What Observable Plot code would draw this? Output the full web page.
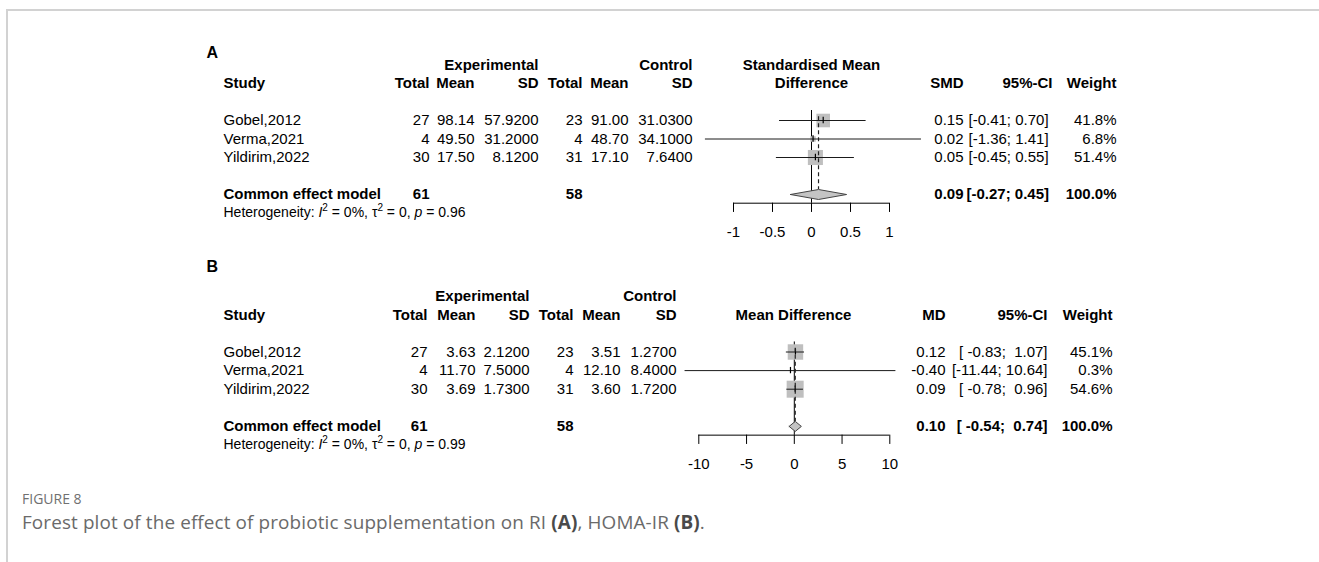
<!DOCTYPE html>
<html>
<head>
<meta charset="utf-8">
<script src="https://cdn.jsdelivr.net/npm/d3@7"></script>
<script src="https://cdn.jsdelivr.net/npm/@observablehq/plot@0.6"></script>
<style>
  html, body { margin: 0; padding: 0; background: #fff; }
  #root { position: relative; width: 1319px; height: 562px; overflow: hidden; background: #fff; }
  #frame { position: absolute; left: 6px; top: 9px; right: 0; bottom: -4px; border-top: 2px solid #d2d2d2; border-left: 2px solid #d2d2d2; }
  .panel { position: absolute; left: 0; }
  svg text { white-space: pre; }
  #figlabel { position: absolute; left: 22px; top: 492px; font-family: "Open Sans", sans-serif; font-size: 14px; color: #707070; line-height: 14px; }
  #figcap { position: absolute; left: 22px; top: 512px; font-family: "Open Sans", sans-serif; font-size: 18.9px; letter-spacing: 0.12px; color: #6a6a6a; line-height: 20px; }
  #figcap b { color: #4a4a4a; }
</style>
</head>
<body>
<div id="root">
  <div id="frame"></div>
  <div id="panelA" class="panel" style="top:30px"></div>
  <div id="panelB" class="panel" style="top:250px"></div>
  <div id="figlabel">FIGURE 8</div>
  <div id="figcap">Forest plot of the effect of probiotic supplementation on RI <b>(A)</b>, HOMA-IR <b>(B)</b>.</div>
</div>
<script>
// ---------- data ----------
const studies = ["Gobel,2012", "Verma,2021", "Yildirim,2022"];

// Panel A: RI (standardised mean difference)
const aExpTotal = [27, 4, 30];
const aExpMean = [98.14, 49.50, 17.50];
const aExpSD = [57.92, 31.20, 8.12];
const aCtlTotal = [23, 4, 31];
const aCtlMean = [91.00, 48.70, 17.10];
const aCtlSD = [31.03, 34.10, 7.64];
const aEst = [0.15, 0.02, 0.05];
const aLower = [-0.41, -1.36, -0.45];
const aUpper = [0.70, 1.41, 0.55];
const aWeight = [41.8, 6.8, 51.4];
const aCommon = [0.09, -0.27, 0.45];      // estimate, lower, upper
const aCommonN = [61, 58];                 // experimental, control totals
const aHetP = "0.96";
const aTicks = [-1, -0.5, 0, 0.5, 1];

// Panel B: HOMA-IR (mean difference)
const bExpTotal = [27, 4, 30];
const bExpMean = [3.63, 11.70, 3.69];
const bExpSD = [2.12, 7.50, 1.73];
const bCtlTotal = [23, 4, 31];
const bCtlMean = [3.51, 12.10, 3.60];
const bCtlSD = [1.27, 8.40, 1.72];
const bEst = [0.12, -0.40, 0.09];
const bLower = [-0.83, -11.44, -0.78];
const bUpper = [1.07, 10.64, 0.96];
const bWeight = [45.1, 0.3, 54.6];
const bCommon = [0.10, -0.54, 0.74];
const bCommonN = [61, 58];
const bHetP = "0.99";
const bTicks = [-10, -5, 0, 5, 10];

// ---------- helpers ----------
const FONT = "Liberation Sans, Arial, Helvetica, sans-serif";
const INK = "#000";

function col(values, rowOf, px, anchor, bold, size, extra) {
  return Plot.text(values, Object.assign({
    y: (d, i) => rowOf(i),
    text: d => d,
    frameAnchor: "left",
    dx: px,
    textAnchor: anchor,
    fontWeight: bold ? "bold" : "normal",
    fontSize: size || 15,
    fill: INK
  }, extra || {}));
}

function forest(cfg) {
  const idx = studies.map((_, i) => i);
  const cRow = 4;        // common-effect row
  const hd = 0.27;       // diamond half-height (rows)
  const axisRow = 4.47;
  const p = cfg.pos;
  const fmtCI = cfg.fmtCI;
  const marks = [
    // panel letter
    col([cfg.letter], () => cfg.letterRow, p.letter, "start", true, 16),
    // group headers
    col(["Experimental"], () => -3, p.eSD, "end", true),
    col(["Control"], () => -3, p.cSD, "end", true),
    // column headers
    col(["Study"], () => -2, p.study, "start", true),
    col(["Total"], () => -2, p.eT, "end", true),
    col(["Mean"], () => -2, p.eM, "end", true),
    col(["SD"], () => -2, p.eSD, "end", true),
    col(["Total"], () => -2, p.cT, "end", true),
    col(["Mean"], () => -2, p.cM, "end", true),
    col(["SD"], () => -2, p.cSD, "end", true),
    col([cfg.effName], () => -2, p.eff, "end", true),
    col(["95%-CI"], () => -2, p.ciHead, "end", true),
    col(["Weight"], () => -2, p.w, "end", true),
    ...cfg.effTitle.map((t, k) => col([t], () => -2 - (cfg.effTitle.length - 1) + k, p.effTitle, "middle", true)),
    // study rows
    col(studies, i => i, p.study, "start"),
    col(cfg.eT.map(String), i => i, p.eT, "end"),
    col(cfg.eM.map(v => v.toFixed(2)), i => i, p.eM, "end"),
    col(cfg.eSD.map(v => v.toFixed(4)), i => i, p.eSD, "end"),
    col(cfg.cT.map(String), i => i, p.cT, "end"),
    col(cfg.cM.map(v => v.toFixed(2)), i => i, p.cM, "end"),
    col(cfg.cSD.map(v => v.toFixed(4)), i => i, p.cSD, "end"),
    col(cfg.est.map(v => v.toFixed(2)), i => i, p.eff, "end"),
    col(idx.map(i => fmtCI(cfg.lower[i], cfg.upper[i])), i => i, p.ci, p.ciAnchor),
    col(cfg.weight.map(v => v.toFixed(1) + "%"), i => i, p.w, "end"),
    // common effect row
    col(["Common effect model"], () => cRow, p.study, "start", true),
    col([String(cfg.commonN[0])], () => cRow, p.eT, "end", true),
    col([String(cfg.commonN[1])], () => cRow, p.cT, "end", true),
    col([cfg.common[0].toFixed(2)], () => cRow, p.eff, "end", true),
    col([fmtCI(cfg.common[1], cfg.common[2])], () => cRow, p.ciBold, p.ciAnchor, true),
    col(["100.0%"], () => cRow, p.w, "end", true),
    // heterogeneity
    col(["Heterogeneity: I2 = 0%, tau2 = 0, p = " + cfg.hetP], () => cRow + 1, p.study, "start", false, 14, {className: "het"}),
    // zero line
    Plot.ruleX([0], {y1: -0.54, y2: axisRow, stroke: "#000", strokeWidth: 1}),
    // squares
    Plot.dot(idx, {x: i => cfg.est[i], y: i => i, r: i => cfg.weight[i], symbol: "square", fill: "#bfbfbf", stroke: null}),
    // confidence intervals
    Plot.ruleY(idx, {y: i => i, x1: i => cfg.lower[i], x2: i => cfg.upper[i], stroke: "#1a1a1a", strokeWidth: 1}),
    // point estimate ticks
    Plot.ruleX(idx, {x: i => cfg.est[i], y1: i => i - 0.17, y2: i => i + 0.17, stroke: "#000", strokeWidth: 1.2}),
    // common effect dashed line
    Plot.ruleX([cfg.common[0]], {y1: -0.2, y2: cRow - hd, stroke: "#222", strokeWidth: 1.2, strokeDasharray: "4,3"}),
    // diamond
    Plot.line([
      {x: cfg.common[1], y: cRow},
      {x: cfg.common[0], y: cRow - hd},
      {x: cfg.common[2], y: cRow},
      {x: cfg.common[0], y: cRow + hd},
      {x: cfg.common[1], y: cRow}
    ], {x: "x", y: "y", fill: "#c4c4c4", stroke: "#444", strokeWidth: 1}),
    // axis
    Plot.ruleY([axisRow], {x1: cfg.ticks[0], x2: cfg.ticks[cfg.ticks.length - 1], stroke: "#000", strokeWidth: 1}),
    Plot.ruleX(cfg.ticks, {x: d => d, y1: axisRow, y2: axisRow + 0.5, stroke: "#000", strokeWidth: 1}),
    Plot.text(cfg.ticks, {x: d => d, y: 6.05, text: d => String(d), fontSize: 15, fill: INK})
  ];
  const chart = Plot.plot({
    width: 1319,
    height: cfg.height,
    margin: 0,
    style: {fontFamily: FONT, background: "transparent", overflow: "visible"},
    x: {domain: [cfg.ticks[0], cfg.ticks[cfg.ticks.length - 1]], range: cfg.xRange, axis: null},
    y: {domain: [0, 5], range: cfg.yRange, axis: null},
    r: {domain: [0, d3.max(cfg.weight)], range: [0, cfg.rMax]},
    marks
  });
  // heterogeneity line with italic / superscript parts
  chart.querySelectorAll(".het text").forEach(t => {
    const ns = "http://www.w3.org/2000/svg";
    t.textContent = "";
    const parts = [
      ["Heterogeneity: ", {}],
      ["I", {"font-style": "italic"}],
      ["2", {"font-size": 10, dy: -6}],
      [" = 0%, \u03c4", {dy: 6}],
      ["2", {"font-size": 10, dy: -6}],
      [" = 0, ", {dy: 6}],
      ["p", {"font-style": "italic"}],
      [" = " + cfg.hetP, {}]
    ];
    for (const [s, attrs] of parts) {
      const ts = document.createElementNS(ns, "tspan");
      for (const k in attrs) ts.setAttribute(k, attrs[k]);
      ts.textContent = s;
      t.appendChild(ts);
    }
  });
  return chart;
}

const fmtA = (lo, hi) => "[" + lo.toFixed(2) + "; " + hi.toFixed(2) + "]";
const fmtB = (lo, hi) => "[" + lo.toFixed(2).padStart(6, " ") + ";" + hi.toFixed(2).padStart(6, " ") + "]";

document.getElementById("panelA").appendChild(forest({
  letter: "A", letterRow: -3.65, height: 220,
  eT: aExpTotal, eM: aExpMean, eSD: aExpSD, cT: aCtlTotal, cM: aCtlMean, cSD: aCtlSD,
  est: aEst, lower: aLower, upper: aUpper, weight: aWeight,
  common: aCommon, commonN: aCommonN, hetP: aHetP, ticks: aTicks,
  effName: "SMD", effTitle: ["Standardised Mean", "Difference"],
  fmtCI: fmtA,
  xRange: [733, 889], yRange: [90, 182.5], rMax: 8.5,
  pos: {letter: 206, study: 223, eT: 429, eM: 474, eSD: 538, cT: 582, cM: 628, cSD: 692,
        effTitle: 811, eff: 963, ciHead: 1052, ci: 968, ciBold: 966, ciAnchor: "start", w: 1116}
}));

document.getElementById("panelB").appendChild(forest({
  letter: "B", letterRow: -4.6, height: 230,
  eT: bExpTotal, eM: bExpMean, eSD: bExpSD, cT: bCtlTotal, cM: bCtlMean, cSD: bCtlSD,
  est: bEst, lower: bLower, upper: bUpper, weight: bWeight,
  common: bCommon, commonN: bCommonN, hetP: bHetP, ticks: bTicks,
  effName: "MD", effTitle: ["Mean Difference"],
  fmtCI: fmtB,
  xRange: [698.3, 889.3], yRange: [101.5, 194.5], rMax: 9.6,
  pos: {letter: 206, study: 223, eT: 427, eM: 475, eSD: 529, cT: 573, cM: 620, cSD: 676,
        effTitle: 793, eff: 945, ciHead: 1047, ci: 1047, ciBold: 1047, ciAnchor: "end", w: 1112}
}));
</script>
</body>
</html>
